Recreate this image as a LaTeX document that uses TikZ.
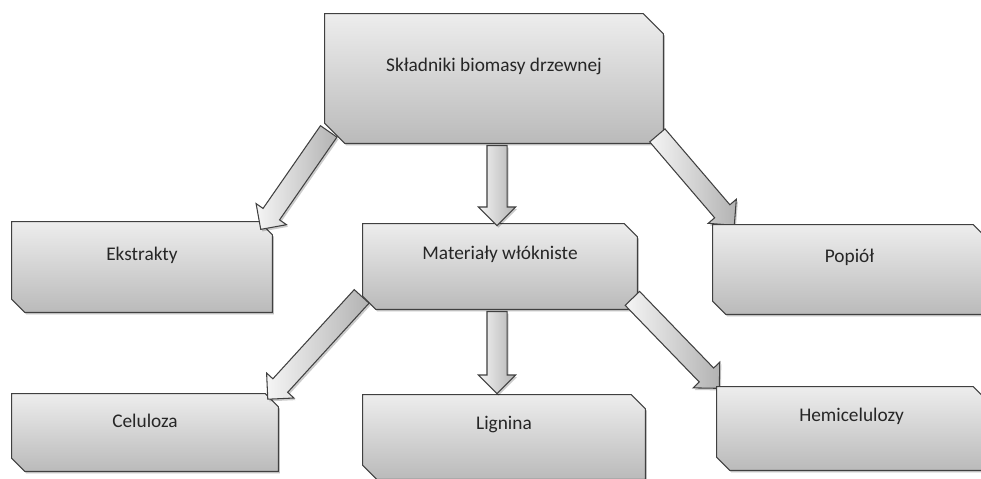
\documentclass[tikz,border=0pt]{standalone}
\usepackage{fontspec}
\setmainfont{Carlito}
\usetikzlibrary{shapes.arrows,shadows,fit,calc}
\newcommand\snipbox[5]{%
  \node[fit={#2 #3}, inner sep=0pt] (#1) {};
  \path[boxstyle] (#1.north west) -- ([xshift=-#4]#1.north east) -- ([yshift=-#4]#1.north east)
    -- (#1.south east) -- ([xshift=#4]#1.south west) -- ([yshift=#4]#1.south west) -- cycle;
  \node[lbl] (#1-t) at ([yshift=0.24cm]#1.center) {#5};
}
\newcommand\blockarrow[3]{%
  \path let \p1=(#2), \p2=(#3), \n1={atan2(\y2-\y1,\x2-\x1)}, \n2={veclen(\x2-\x1,\y2-\y1)} in
    node[arrowstyle, rotate=\n1, minimum height=\n2, anchor=tail] (#1) at (\p1) {};
}
\begin{document}
\begin{tikzpicture}[x=0.02cm,y=-0.02cm,
  boxstyle/.style={draw=black!75, line width=0.6pt, top color=black!7, bottom color=black!27,
    drop shadow={shadow xshift=0.9pt, shadow yshift=-1.2pt, opacity=0.25, fill=black}},
  lbl/.style={font=\fontsize{11}{13}\selectfont, text=black!85, inner sep=0pt},
  arrowstyle/.style={single arrow, draw=black!75, line width=0.6pt, inner xsep=0pt, inner ysep=0.19cm,
    single arrow head extend=0.17cm, left color=black!4, right color=black!30,
    drop shadow={shadow xshift=0.9pt, shadow yshift=-1.2pt, opacity=0.2, fill=black}}
]
\useasboundingbox (0,0) rectangle (981,479);

\coordinate (a1s) at (329,131); \coordinate (a1e) at (261,229);
\coordinate (a2s) at (497,145); \coordinate (a2e) at (497,225);
\coordinate (a3s) at (657,135); \coordinate (a3e) at (734,225);
\coordinate (a4s) at (362,296); \coordinate (a4e) at (268,399);
\coordinate (a5s) at (497,311); \coordinate (a5e) at (497,393);
\coordinate (a6s) at (632,298); \coordinate (a6e) at (719,388);

\snipbox{top}{(325,14)}{(663,143)}{0.4cm}{Składniki biomasy drzewnej}
\snipbox{mat}{(363,224)}{(637,309)}{0.26cm}{Materiały włókniste}
\snipbox{ekst}{(12,222)}{(272,312)}{0.26cm}{Ekstrakty}
\snipbox{cel}{(12,394)}{(278,471)}{0.26cm}{Celuloza}
\snipbox{lig}{(363,395)}{(645,479)}{0.28cm}{Lignina}

\blockarrow{ar3}{a3s}{a3e}
\blockarrow{ar6}{a6s}{a6e}

\snipbox{pop}{(713,225)}{(986,314)}{0.26cm}{Popiół}
\snipbox{hem}{(717,387)}{(986,470)}{0.26cm}{Hemicelulozy}

\blockarrow{ar1}{a1s}{a1e}
\blockarrow{ar2}{a2s}{a2e}
\blockarrow{ar4}{a4s}{a4e}
\blockarrow{ar5}{a5s}{a5e}
\end{tikzpicture}
\end{document}
